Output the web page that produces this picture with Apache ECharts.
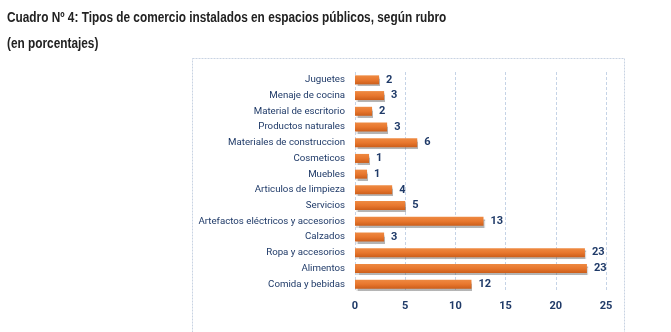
<!DOCTYPE html>
<html>
<head>
<meta charset="utf-8">
<script src="https://cdn.jsdelivr.net/npm/echarts@6/dist/echarts.min.js"></script>
<style>
  html, body { margin: 0; padding: 0; background: #fff; }
  #chart { width: 671px; height: 332px; }
</style>
</head>
<body>
<div id="chart"></div>
<script>
// rubros, de arriba hacia abajo
const categories = [
    'Juguetes', 'Menaje de cocina', 'Material de escritorio', 'Productos naturales',
    'Materiales de construccion', 'Cosmeticos', 'Muebles', 'Articulos de limpieza',
    'Servicios', 'Artefactos eléctricos y accesorios', 'Calzados', 'Ropa y accesorios',
    'Alimentos', 'Comida y bebidas'
];
// largo de barras (porcentajes)
const values = [2.4, 2.9, 1.7, 3.2, 6.2, 1.4, 1.2, 3.7, 5.0, 12.8, 2.9, 22.9, 23.1, 11.6];
// etiquetas tal como aparecen
const valueLabels = ['2', '3', '2', '3', '6', '1', '1', '4', '5', '13', '3', '23', '23', '12'];
const xTicks = [0, 5, 10, 15, 20, 25];

const chart = echarts.init(document.getElementById('chart'));

const navy = '#1f3a68';
const titleFont = 'bold 14px "Liberation Sans", Arial, sans-serif';

const option = {
    animation: false,
    graphic: [
        {
            type: 'text',
            x: 7, y: 11, scaleX: 0.845,
            style: { text: 'Cuadro Nº 4: Tipos de comercio instalados en espacios públicos, según rubro', font: titleFont, fill: '#222' },
            silent: true
        },
        {
            type: 'text',
            x: 7, y: 37, scaleX: 0.845,
            style: { text: '(en porcentajes)', font: titleFont, fill: '#222' },
            silent: true
        },
        {
            type: 'rect',
            shape: { x: 192.5, y: 58.5, width: 432, height: 290 },
            style: { fill: 'none', stroke: '#c8d3e2', lineWidth: 1, lineDash: [2, 1] },
            silent: true
        }
    ],
    grid: { left: 355, right: 65, top: 72, bottom: 40 },
    xAxis: {
        type: 'value',
        min: xTicks[0],
        max: xTicks[xTicks.length - 1],
        interval: 5,
        axisLine: { show: false },
        axisTick: { show: false },
        axisLabel: {
            margin: 9,
            color: navy,
            fontFamily: 'Roboto',
            fontSize: 11,
            fontWeight: 'bold'
        },
        splitLine: { lineStyle: { color: '#c5d3e6', type: [3, 2], width: 1 } }
    },
    yAxis: {
        type: 'category',
        inverse: true,
        data: categories,
        axisLine: { show: false },
        axisTick: { show: false },
        axisLabel: {
            margin: 10,
            color: navy,
            fontFamily: 'Roboto',
            fontSize: 9.7
        }
    },
    series: [
        {
            type: 'bar',
            data: values,
            barWidth: 9,
            itemStyle: {
                color: new echarts.graphic.LinearGradient(0, 0, 0, 1, [
                    { offset: 0, color: '#ee8a42' },
                    { offset: 0.5, color: '#e8772e' },
                    { offset: 1, color: '#cc5e1a' }
                ]),
                shadowColor: 'rgba(90,90,90,0.45)',
                shadowOffsetX: 1,
                shadowOffsetY: 2,
                shadowBlur: 1
            },
            label: {
                show: true,
                position: 'right',
                distance: 7,
                color: navy,
                fontFamily: 'Roboto',
                fontSize: 11,
                fontWeight: 'bold',
                formatter: p => valueLabels[p.dataIndex]
            }
        }
    ]
};

chart.setOption(option);
</script>
</body>
</html>
